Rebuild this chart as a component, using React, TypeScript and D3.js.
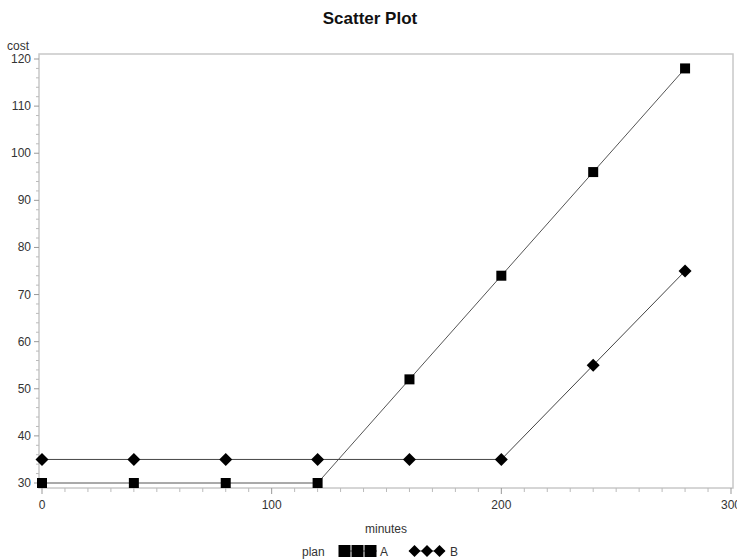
import React from "react";
import * as d3 from "d3";

const minutes = [0, 40, 80, 120, 160, 200, 240, 280];
const costA = [30, 30, 30, 30, 52, 74, 96, 118];
const costB = [35, 35, 35, 35, 35, 35, 55, 75];
const xTicks = [0, 100, 200, 300];
const yTicks = [30, 40, 50, 60, 70, 80, 90, 100, 110, 120];
const seriesNames = ["A", "B"];

const W = 737, H = 560;
const frame = { left: 39, right: 733, top: 54, bottom: 488 };
const font = "'Liberation Sans', Arial, sans-serif";

export default function App() {
  const x = d3.scaleLinear().domain([0, 300]).range([42, 731]);
  const y = d3.scaleLinear().domain([30, 120]).range([483, 59]);
  const xMinor = d3.range(0, 301, 10).filter((v) => v % 100 !== 0);
  const yMinor = d3.range(30, 121, 2).filter((v) => v % 10 !== 0);
  const line = d3.line<[number, number]>().x((d) => x(d[0])).y((d) => y(d[1]));
  const ptsA: [number, number][] = minutes.map((m, i) => [m, costA[i]]);
  const ptsB: [number, number][] = minutes.map((m, i) => [m, costB[i]]);
  const sq = 10;
  const diamond = (cx: number, cy: number, r = 6.5) =>
    `M${cx},${cy - r}L${cx + r},${cy}L${cx},${cy + r}L${cx - r},${cy}Z`;
  const tc = "#333";
  const fs = 12;

  return (
    <svg width={W} height={H} style={{ position: "absolute", left: 0, top: 0 }}>
      <rect width={W} height={H} fill="#fff" />
      <text x={370} y={24} textAnchor="middle" fontFamily={font} fontWeight="bold" fontSize={17} fill="#111">
        Scatter Plot
      </text>
      <rect x={frame.left} y={frame.top} width={frame.right - frame.left} height={frame.bottom - frame.top}
        fill="none" stroke="#c8c8c8" strokeWidth={1.5} />
      {/* y axis */}
      {yTicks.map((t) => (
        <g key={"y" + t}>
          <line x1={frame.left - 5} x2={frame.left} y1={y(t)} y2={y(t)} stroke="#999" />
          <text x={frame.left - 8} y={y(t) + 4} textAnchor="end" fontFamily={font} fontSize={fs} fill={tc}>{t}</text>
        </g>
      ))}
      {yMinor.map((t) => (
        <line key={"ym" + t} x1={frame.left - 3} x2={frame.left} y1={y(t)} y2={y(t)} stroke="#bbb" />
      ))}
      <text x={7} y={50} fontFamily={font} fontSize={fs} fill={tc}>cost</text>
      {/* x axis */}
      {xTicks.map((t) => (
        <g key={"x" + t}>
          <line x1={x(t)} x2={x(t)} y1={frame.bottom} y2={frame.bottom + 6} stroke="#999" />
          <text x={x(t)} y={frame.bottom + 21} textAnchor="middle" fontFamily={font} fontSize={fs} fill={tc}>{t}</text>
        </g>
      ))}
      {xMinor.map((t) => (
        <line key={"xm" + t} x1={x(t)} x2={x(t)} y1={frame.bottom} y2={frame.bottom + 4} stroke="#bbb" />
      ))}
      <text x={386} y={533} textAnchor="middle" fontFamily={font} fontSize={fs} fill={tc}>minutes</text>
      {/* series */}
      <path d={line(ptsA) || ""} fill="none" stroke="#555" strokeWidth={1} />
      <path d={line(ptsB) || ""} fill="none" stroke="#444" strokeWidth={1} />
      {ptsA.map((p, i) => (
        <rect key={"a" + i} x={x(p[0]) - sq / 2} y={y(p[1]) - sq / 2} width={sq} height={sq} fill="#000" />
      ))}
      {ptsB.map((p, i) => (
        <path key={"b" + i} d={diamond(x(p[0]), y(p[1]))} fill="#000" />
      ))}
      {/* legend */}
      <text x={302} y={556} fontFamily={font} fontSize={fs} fill={tc}>plan</text>
      <line x1={339} x2={377} y1={551} y2={551} stroke="#555" />
      {[344.5, 357.5, 370.5].map((cx) => (
        <rect key={"la" + cx} x={cx - 6} y={545} width={12} height={12} fill="#000" />
      ))}
      <text x={380} y={556} fontFamily={font} fontSize={fs} fill={tc}>{seriesNames[0]}</text>
      <line x1={409} x2={445} y1={551} y2={551} stroke="#555" />
      {[414.5, 427, 439.5].map((cx) => (
        <path key={"lb" + cx} d={diamond(cx, 551, 6)} fill="#000" />
      ))}
      <text x={450} y={556} fontFamily={font} fontSize={fs} fill={tc}>{seriesNames[1]}</text>
    </svg>
  );
}
